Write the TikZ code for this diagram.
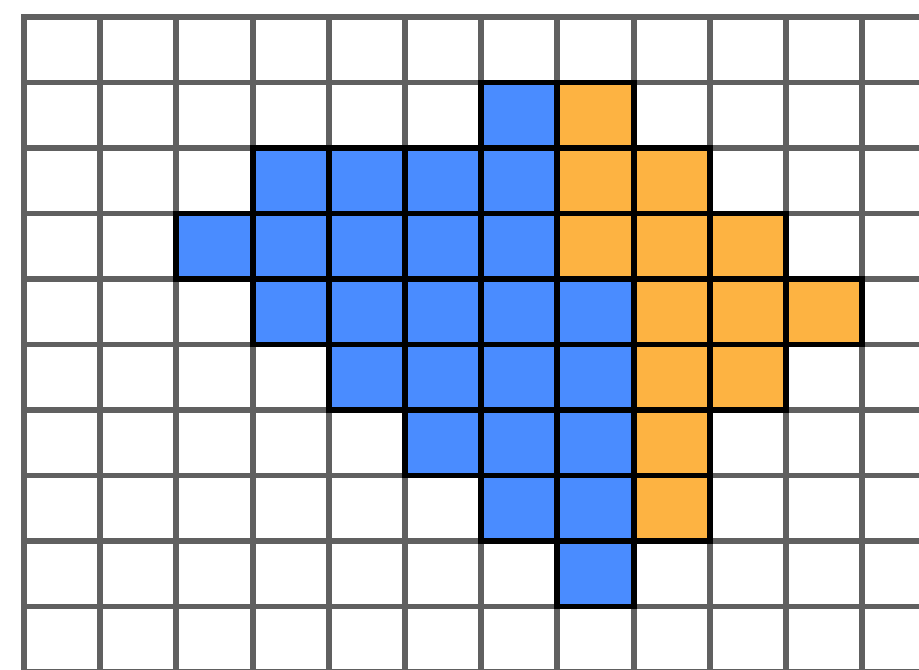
\documentclass[tikz,border=0pt]{standalone}
\usetikzlibrary{positioning}
\definecolor{cellblue}{HTML}{4A8CFF}
\definecolor{cellorange}{HTML}{FDB342}
\definecolor{gridgray}{HTML}{606060}
\tikzset{
  gridline/.style={draw=gridgray, line width=3.4pt, line cap=rect},
  bluecell/.style={fill=cellblue, draw=black, line width=3.4pt, line cap=rect},
  orangecell/.style={fill=cellorange, draw=black, line width=3.4pt, line cap=rect}
}
\begin{document}
\begin{tikzpicture}[x=0.02cm,y=-0.02cm]
  \useasboundingbox (0,0) rectangle (919,669);
  \clip (0,0) rectangle (919,669);
  \fill[white] (0,0) rectangle (919,669);
  % grid
  \foreach \c in {0,...,12} \draw[gridline] ({24+76.2*\c},17) -- ({24+76.2*\c},720);
  \foreach \r in {0,...,10} \draw[gridline] (24,{17+65.5*\r}) -- (960,{17+65.5*\r});
  % blue region
  \foreach \c/\r in {6/1, 3/2,4/2,5/2,6/2, 2/3,3/3,4/3,5/3,6/3, 3/4,4/4,5/4,6/4,7/4,
                     4/5,5/5,6/5,7/5, 5/6,6/6,7/6, 6/7,7/7, 7/8}
    \draw[bluecell] ({24+76.2*\c},{17+65.5*\r}) rectangle ++(76.2,65.5);
  % orange region
  \foreach \c/\r in {7/1, 7/2,8/2, 7/3,8/3,9/3, 8/4,9/4,10/4, 8/5,9/5, 8/6, 8/7}
    \draw[orangecell] ({24+76.2*\c},{17+65.5*\r}) rectangle ++(76.2,65.5);
\end{tikzpicture}
\end{document}
